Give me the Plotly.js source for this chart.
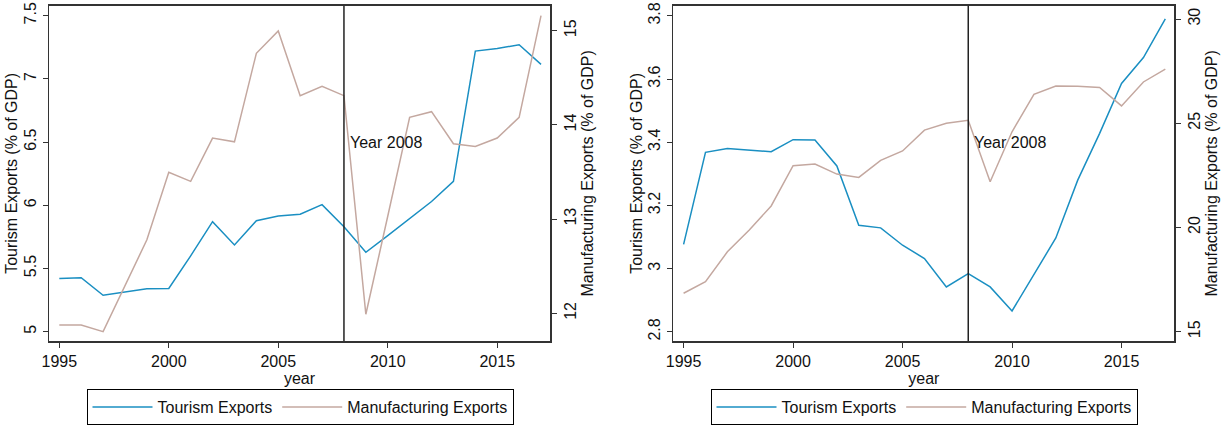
<!DOCTYPE html>
<html>
<head>
<meta charset="utf-8">
<script src="https://cdn.plot.ly/plotly-3.0.1.min.js"></script>
<style>html,body{margin:0;padding:0;background:#fff;}#chart{width:1225px;height:425px;}</style>
</head>
<body>
<div id="chart"></div>
<script>
const years = [1995,1996,1997,1998,1999,2000,2001,2002,2003,2004,2005,2006,2007,2008,2009,2010,2011,2012,2013,2014,2015,2016,2017];
const tourismA = [5.42,5.427,5.288,5.314,5.34,5.342,5.60,5.87,5.686,5.878,5.915,5.929,6.005,5.83,5.628,5.76,5.897,6.03,6.19,7.22,7.24,7.27,7.115];
const manufA = [11.876,11.876,11.805,12.29,12.78,13.497,13.40,13.86,13.82,14.76,14.997,14.31,14.41,14.31,11.99,13.03,14.08,14.14,13.80,13.77,13.86,14.08,15.16];
const tourismB = [3.077,3.368,3.380,3.376,3.370,3.408,3.407,3.325,3.137,3.129,3.074,3.032,2.942,2.984,2.942,2.866,2.98,3.097,3.28,3.428,3.586,3.668,3.79];
const manufB = [16.84,17.40,18.83,19.88,21.03,22.96,23.04,22.56,22.40,23.22,23.67,24.67,25.0,25.14,22.19,24.59,26.39,26.79,26.77,26.72,25.83,26.98,27.6];
const markYear = 2008;
const markLabel = "Year 2008";
const seriesNames = ["Tourism Exports", "Manufacturing Exports"];
const yTitleLeft = "Tourism Exports (% of GDP)";
const yTitleRight = "Manufacturing Exports (% of GDP)";
const xTitle = "year";

const blue = "#1a8fc2";
const rose = "#c4a8a0";
const frame = "#333333";
const font = {family: "Liberation Sans, Arial, sans-serif", size: 16, color: "#111"};

const traces = [
  {x: years, y: tourismA, xaxis: "x", yaxis: "y", type: "scatter", mode: "lines", name: seriesNames[0], line: {color: blue, width: 1.5}, legend: "legend"},
  {x: years, y: manufA, xaxis: "x", yaxis: "y2", type: "scatter", mode: "lines", name: seriesNames[1], line: {color: rose, width: 1.5}, legend: "legend"},
  {x: years, y: tourismB, xaxis: "x2", yaxis: "y3", type: "scatter", mode: "lines", name: seriesNames[0], line: {color: blue, width: 1.5}, legend: "legend2"},
  {x: years, y: manufB, xaxis: "x2", yaxis: "y4", type: "scatter", mode: "lines", name: seriesNames[1], line: {color: rose, width: 1.5}, legend: "legend2"}
];

const yDom = [1 - 341/425, 1 - 5.7/425];
function xax(dom, anchor) {
  return {domain: dom, anchor: anchor, range: [1994.53, 2017.41], tickvals: [1995,2000,2005,2010,2015],
    showgrid: false, zeroline: false, showline: true, linecolor: frame, linewidth: 1.5, mirror: true,
    ticks: "outside", ticklen: 5, tickcolor: frame, tickfont: font,
    title: {text: xTitle, font: font, standoff: 0}};
}
function yax(range, tickvals, anchor, side, overlay, title, standoff) {
  const a = {range: range, tickvals: tickvals, anchor: anchor, side: side, domain: yDom,
    showgrid: false, zeroline: false, showline: true, linecolor: frame, linewidth: 1.5,
    ticks: "outside", ticklen: 5, tickcolor: frame, tickfont: font, tickangle: -90,
    title: {text: title, font: font, standoff: standoff}};
  if (overlay) a.overlaying = overlay;
  return a;
}

const legendCommon = {orientation: "h", xanchor: "center", y: 1 - 407/425, yanchor: "middle",
  bordercolor: "#000", borderwidth: 1, font: font, itemwidth: 60};

const layout = {
  width: 1225, height: 425,
  margin: {l: 0, r: 0, t: 0, b: 0},
  paper_bgcolor: "#fff", plot_bgcolor: "#fff",
  font: font,
  showlegend: true,
  xaxis: xax([49/1225, 550/1225], "y"),
  xaxis2: xax([673.3/1225, 1174.3/1225], "y3"),
  yaxis: yax([4.926, 7.579], [5,5.5,6,6.5,7,7.5], "x", "left", null, yTitleLeft, 0),
  yaxis2: yax([11.706, 15.265], [12,13,14,15], "x", "right", "y", yTitleRight, 0),
  yaxis3: yax([2.771, 3.832], [2.8,3,3.2,3.4,3.6,3.8], "x2", "left", null, yTitleLeft, 0),
  yaxis4: yax([14.55, 30.64], [15,20,25,30], "x2", "right", "y3", yTitleRight, 0),
  legend: Object.assign({x: 300/1225}, legendCommon),
  legend2: Object.assign({x: 924/1225}, legendCommon),
  shapes: [
    {type: "line", xref: "x", yref: "y domain", x0: markYear, x1: markYear, y0: 0, y1: 1, line: {color: "#222", width: 1.5}},
    {type: "line", xref: "x2", yref: "y3 domain", x0: markYear, x1: markYear, y0: 0, y1: 1, line: {color: "#222", width: 1.5}}
  ],
  annotations: [
    {xref: "x", yref: "paper", x: markYear, y: 1 - 143/425, text: markLabel, showarrow: false, xanchor: "left", yanchor: "middle", xshift: 4, font: font},
    {xref: "x2", yref: "paper", x: markYear, y: 1 - 143/425, text: markLabel, showarrow: false, xanchor: "left", yanchor: "middle", xshift: 4, font: font}
  ]
};

Plotly.newPlot("chart", traces, layout, {staticPlot: true, displayModeBar: false});
</script>
</body>
</html>
